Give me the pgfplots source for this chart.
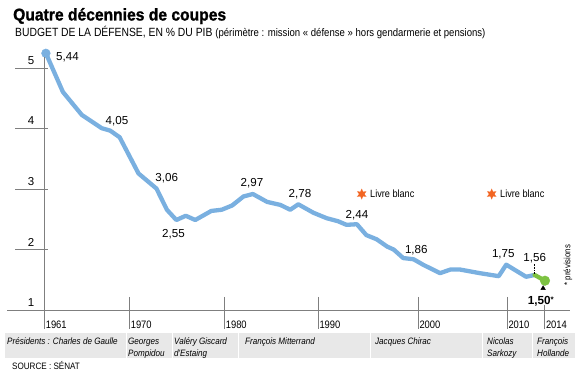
\documentclass[border=0pt]{standalone}
\usepackage{fontspec}
\setmainfont{Liberation Sans}
\newfontfamily\narrow{Liberation Sans}[FakeStretch=0.87]
\newfontfamily\titlefont{Liberation Sans}[FakeStretch=0.92, BoldFeatures={FakeBold=1.3}]
\usepackage{pgfplots}
\pgfplotsset{compat=1.18}
\usetikzlibrary{shapes.geometric}
\definecolor{lblue}{HTML}{7AB0E0}
\definecolor{lgreen}{HTML}{7DC242}
\definecolor{lorange}{HTML}{F26522}
\definecolor{tgray}{HTML}{7F7F7F}
\definecolor{bandgray}{HTML}{E8E8E8}
\pgfdeclareplotmark{fstar}{\node[star,star points=6,star point ratio=2.0,minimum size=11pt,inner sep=0pt,fill=lorange,draw=none]{};}
\begin{document}
\begin{tikzpicture}
\begin{axis}[at={(44pt,67pt)}, anchor=south west, scale only axis,
  width=501pt, height=241.6pt, xmin=1961, xmax=2014, ymin=1, ymax=5,
  hide axis, clip=false]
\addplot[lblue, line width=4.3pt, line join=round, line cap=round] coordinates {
(1961.2,5.25) (1963,4.61) (1965,4.23) (1967.1,4.01) (1968,3.97) (1969,3.86)
(1971,3.26) (1972.9,3.01) (1974,2.66) (1975,2.49) (1976,2.56) (1977,2.49)
(1978.7,2.64) (1979.8,2.66) (1980.9,2.73) (1982.1,2.88) (1983.1,2.92)
(1984.6,2.79) (1986,2.74) (1987.05,2.66) (1987.9,2.75) (1989.5,2.61)
(1990.9,2.52) (1992.1,2.47) (1993,2.41) (1994.1,2.42) (1995.1,2.24)
(1996.2,2.17) (1997.3,2.05) (1998,2.00) (1999,1.86) (2000.1,1.84)
(2001.1,1.75) (2002.9,1.61) (2004,1.67) (2005,1.67) (2007.1,1.61)
(2009.1,1.56) (2009.9,1.75) (2012,1.55) (2012.9,1.58)};
\addplot[only marks, mark=*, mark size=4.4pt, color=lblue] coordinates {(1961.2,5.25)};
\addplot[lgreen, line width=4.3pt, line cap=round] coordinates {(2012.9,1.58) (2014,1.485)};
\addplot[only marks, mark=*, mark size=4.8pt, color=lgreen] coordinates {(2014,1.485)};
\addplot[only marks, mark=fstar] coordinates {(1994.61,2.92) (2008.36,2.92)};
\addplot[only marks, mark=triangle*, mark size=2.6pt, color=black] coordinates {(2013.8,1.36)};
\draw[black, densely dotted, line width=0.6pt] (axis cs:2012.87,1.6) -- (axis cs:2012.87,1.78);
\end{axis}
\begin{scope}[x=1pt,y=1pt]
\path (0,0) rectangle (581,377);
% title
\node[anchor=base west, inner sep=0pt] at (13,356.5) {\titlefont\bfseries\fontsize{17}{20}\selectfont Quatre décennies de coupes};
\node[anchor=base west, inner sep=0pt] at (15,340) {\narrow\fontsize{11.9}{14}\selectfont BUDGET DE LA DÉFENSE, EN \% DU PIB {\fontsize{11}{13}\selectfont(périmètre : mission «~défense~» hors gendarmerie et pensions)}};
% band
\fill[bandgray] (5,19) rectangle (125.5,44);
\fill[bandgray] (127,19) rectangle (171.5,44);
\fill[bandgray] (173,19) rectangle (237.5,44);
\fill[bandgray] (239,19) rectangle (369.5,44);
\fill[bandgray] (371,19) rectangle (481.5,44);
\fill[bandgray] (483,19) rectangle (531.5,44);
\fill[bandgray] (533,19) rectangle (575,44);
% grid / axis lines
\draw[tgray, line width=0.6pt] (15,308.6) -- (48,308.6);
\draw[tgray, line width=0.6pt] (15,248.2) -- (48,248.2);
\draw[tgray, line width=0.6pt] (15,187.8) -- (48,187.8);
\draw[tgray, line width=0.6pt] (15,127.4) -- (48,127.4);
\draw[tgray, line width=0.6pt] (7,67) -- (570,67);
\draw[tgray, line width=0.6pt] (44.3,320) -- (44.3,48);
\foreach \xx in {129.3,224.3,318,418,507} {\draw[tgray, line width=0.6pt] (\xx,80) -- (\xx,48);}
\draw[tgray, line width=0.6pt] (544.5,72) -- (544.5,48);
% y labels
\foreach \yy/\lab in {316.5/5,256/4,195.5/3,135/2,74/1} {\node[inner sep=0pt] at (31,\yy) {\fontsize{11.5}{13}\selectfont\lab};}
% year labels
\foreach \xx/\lab in {44.3/1961,129.3/1970,224.3/1980,318/1990,418/2000,507/2010,544.5/2014}
  {\node[anchor=base west, inner sep=0pt] at (\xx+1.3,48.5) {\narrow\fontsize{10.8}{12}\selectfont\lab};}
% presidents
\begin{scope}[every node/.style={anchor=base west, inner sep=0pt, font=\narrow\itshape\fontsize{9.3}{11}\selectfont}]
\node at (7,32.5) {Présidents : Charles de Gaulle};
\node at (128,32.5) {Georges};
\node at (128,20.5) {Pompidou};
\node at (174,32.5) {Valéry Giscard};
\node at (174,20.5) {d'Estaing};
\node at (245,32.5) {François Mitterrand};
\node at (375,32.5) {Jacques Chirac};
\node at (487,32.5) {Nicolas};
\node at (487,20.5) {Sarkozy};
\node at (537,32.5) {François};
\node at (537,20.5) {Hollande};
\end{scope}
\node[anchor=base west, inner sep=0pt] at (12,7.5) {\narrow\fontsize{9.3}{11}\selectfont SOURCE : SÉNAT};
% data labels
\begin{scope}[every node/.style={anchor=base, inner sep=0pt, font=\fontsize{11.6}{13}\selectfont}]
\node at (67.5,316.3) {5,44};
\node at (117,252) {4,05};
\node at (166.7,195.7) {3,06};
\node at (173.5,139.7) {2,55};
\node at (252,190.3) {2,97};
\node at (300,179.7) {2,78};
\node at (357,158.7) {2,44};
\node at (416.3,123) {1,86};
\node at (503.3,119) {1,75};
\node at (534.7,115.7) {1,56};
\end{scope}
\node[anchor=base west, inner sep=0pt] at (527.7,72) {\fontsize{11.7}{13}\selectfont\bfseries 1,50\raisebox{2.5pt}{\fontsize{8}{9}\selectfont *}};
\node[anchor=base west, inner sep=0pt] at (370,179.5) {\narrow\fontsize{10.5}{12}\selectfont Livre blanc};
\node[anchor=base west, inner sep=0pt] at (500,179.5) {\narrow\fontsize{10.5}{12}\selectfont Livre blanc};
\node[rotate=90, inner sep=0pt] at (568,112) {\narrow\fontsize{9}{11}\selectfont * prévisions};
\end{scope}
\end{tikzpicture}
\end{document}
